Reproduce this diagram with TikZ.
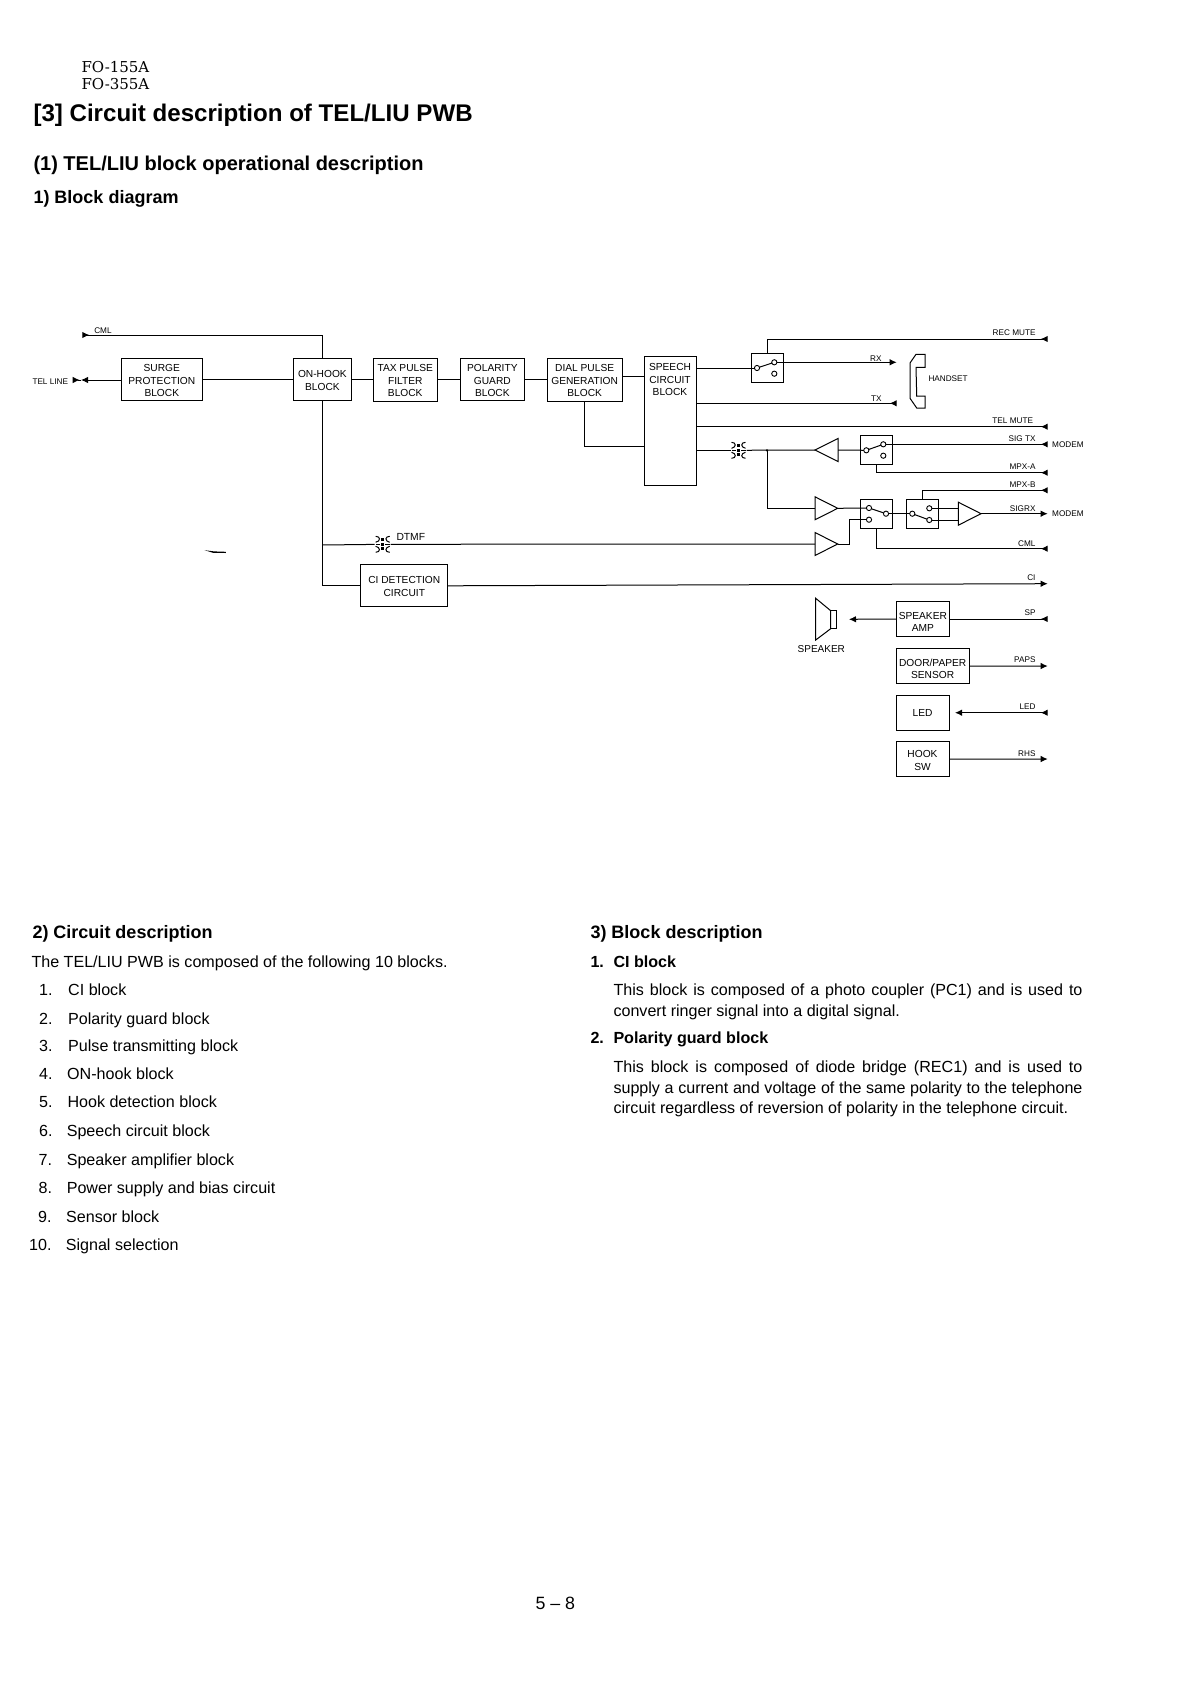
\documentclass[tikz,border=0pt]{standalone}
\usepackage{fontspec}
\setmainfont{Liberation Sans}
\newfontfamily\modelfont{DejaVu Serif}
\usetikzlibrary{
    arrows.meta,
    calc,
    positioning,
}
\tikzstyle{block}=[draw,rectangle,line width=1pt,outer sep=0pt,inner sep=0pt,align=center,font=\fontsize{10.2}{12.3}\selectfont]
\tikzstyle{swbox}=[draw,rectangle,line width=1pt,outer sep=0pt,minimum width=32pt,minimum height=29.5pt]
\tikzstyle{contact}=[draw,circle,fill=white,line width=.9pt,inner sep=0pt,outer sep=0pt,minimum size=5.2pt]
\tikzstyle{choke}=[circle,inner sep=0pt,outer sep=0pt,minimum size=16pt]
\tikzstyle{sig}=[inner sep=0pt,anchor=base east,font=\fontsize{8.2}{10}\selectfont]
\tikzstyle{sigl}=[inner sep=0pt,anchor=base west,font=\fontsize{8.2}{10}\selectfont]
\tikzstyle{body}=[inner sep=0pt,anchor=base west,font=\fontsize{16.1}{20}\selectfont]
\tikzstyle{num}=[inner sep=0pt,anchor=base east,font=\fontsize{16.1}{20}\selectfont]
\tikzstyle{head}=[inner sep=0pt,anchor=base west,font=\fontsize{18}{22}\selectfont\bfseries]
\tikzstyle{inport}=[-{Latex[reversed,length=7pt,width=6.5pt]}]
\tikzset{
    >={Latex[length=7pt,width=6.5pt]},
    every path/.append style={line width=1pt}
}
\newcommand{\Drop}[1]{\rule{0pt}{#1pt}}
\newcommand{\Switch}[5]{%
    \node[swbox] (#1) at (#2) {};
    \node[contact] (#1c) at (#3) {};
    \node[contact] (#1u) at (#4) {};
    \node[contact] (#1l) at (#5) {};
}
\newcommand{\Amp}[4]{%
    \coordinate (#1in) at (#2,#4);
    \coordinate (#1out) at (#3,#4);
    \draw (#2,#4-11.5) -- (#2,#4+11.5) -- (#3,#4) -- cycle;
}
\newcommand{\Choke}[2]{%
    \node[choke] (#1) at (#2) {};
    \begin{scope}[shift={(#1)},line width=1pt]
        \draw (-7,-8) .. controls (-2,-8) and (-2,-3) .. (-7,-2);
        \draw (-7,2) .. controls (-2,3) and (-2,8) .. (-7,8);
        \draw (7,-8) .. controls (2,-8) and (2,-3) .. (7,-2);
        \draw (7,2) .. controls (2,3) and (2,8) .. (7,8);
        \fill (-1.4,-6) rectangle (1.4,-3);
        \fill (-1.4,-1.5) rectangle (1.4,1.5);
        \fill (-1.4,3) rectangle (1.4,6);
        \draw (-7,0) -- (-2.5,0);
        \draw (2.5,0) -- (7,0);
    \end{scope}
}
\newcommand{\JLine}[3]{%
    \node[body] (#1) at (613,#2) {\makebox[469pt][s]{#3}};
}

\begin{document}
\begin{tikzpicture}[x=1pt,y=-1pt]
    \useasboundingbox (0,0) rectangle (1192,1688);

    % Page heading
    \node[inner sep=0pt,anchor=base west,font=\fontsize{15}{17}\modelfont] (model1) at (81,73) {FO-155A};
    \node[inner sep=0pt,anchor=base west,font=\fontsize{15}{17}\modelfont] (model2) at (81,90) {FO-355A};
    \node[head,font=\fontsize{24.1}{28}\selectfont\bfseries] (title) at (33,122) {[3] Circuit description of TEL/LIU PWB};
    \node[head,font=\fontsize{20}{24}\selectfont\bfseries] (sect) at (33,171) {(1) TEL/LIU block operational description};
    \node[head] (sub) at (33,204) {1) Block diagram};

    % Blocks
    \node[block,minimum width=57.8pt,minimum height=42pt] (onhook) at (322.4,379.5) {\Drop{9.3}ON-HOOK\\BLOCK};
    \node[block,minimum width=81.4pt,minimum height=42.4pt,left=91pt of onhook] (surge) {\Drop{9.3}SURGE\\PROTECTION\\BLOCK};
    \node[block,minimum width=64.3pt,minimum height=43pt,right=21.8pt of onhook] (tax) {\Drop{9.3}TAX PULSE\\FILTER\\BLOCK};
    \node[block,minimum width=63.9pt,minimum height=42.7pt,right=23pt of tax] (polarity) {\Drop{9.3}POLARITY\\GUARD\\BLOCK};
    \node[block,minimum width=74.7pt,minimum height=43pt,right=23pt of polarity] (dial) {\Drop{9.3}DIAL PULSE\\GENERATION\\BLOCK};
    \node[block,minimum width=51.7pt,minimum height=128.3pt] (speech) at (670.8,420.9) {};
    \node[inner sep=0pt,align=center,font=\fontsize{10.2}{12.4}\selectfont] (speechtext) at (670,379.5) {SPEECH\\CIRCUIT\\BLOCK};
    \node[block,minimum width=87pt,minimum height=41.7pt] (ci) at (404.3,585.8) {\Drop{8.5}CI DETECTION\\CIRCUIT};
    \node[block,minimum width=53.7pt,minimum height=35.4pt,anchor=north west] (spamp) at (896,601.3) {\Drop{12.5}SPEAKER\\AMP};
    \node[block,minimum width=73.3pt,minimum height=35pt,below=12pt of spamp.south west,anchor=north west] (door) {\Drop{12.5}DOOR/PAPER\\SENSOR};
    \node[block,minimum width=53.3pt,minimum height=35.3pt,below=11.3pt of door.south west,anchor=north west] (led) {LED};
    \node[block,minimum width=53pt,minimum height=35pt,below=11.4pt of led.south west,anchor=north west] (hook) {\Drop{9.8}HOOK\\SW};

    % Switches and amplifiers
    \Switch{swa}{767.3,368.2}{757,368}{774.3,362.3}{774.3,373.7}
    \Switch{swb}{876.3,450}{866.3,450.3}{883.3,444.3}{883.3,455.7}
    \Switch{swc}{876.3,514}{886,513.7}{869,508}{869,519.7}
    \Switch{swd}{922.3,514}{912.3,513.7}{929.3,508.3}{929.3,520}
    \draw (swac) -- (swau);
    \draw (swbc) -- (swbu);
    \draw (swcc) -- (swcu);
    \draw (swdc) -- (swdl);
    \Amp{ampa}{838}{815}{450}
    \Amp{ampb}{815}{837.7}{508.3}
    \Amp{ampc}{815}{837.7}{544}
    \Amp{ampd}{958.3}{981}{513.7}
    \Choke{chokea}{738.5,450.3}
    \Choke{chokeb}{382.7,544.3}

    % Ports
    \coordinate (cmlport) at (82.3,335);
    \coordinate (telmid) at (81,380);
    \coordinate (telport) at (72.7,380);
    \coordinate (recmute) at (1047.7,339);
    \coordinate (rxport) at (896.7,362.3);
    \coordinate (txport) at (896.7,403.3);
    \coordinate (telmute) at (1047.7,426.7);
    \coordinate (sigtx) at (1047.7,444.3);
    \coordinate (mpxa) at (1047.7,472.7);
    \coordinate (mpxb) at (1047.7,490.3);
    \coordinate (sigrx) at (1047.7,513.7);
    \coordinate (cmlb) at (1047.7,548.7);
    \coordinate (ciport) at (1047.7,583.7);
    \coordinate (spport) at (1047.7,619);
    \coordinate (papsport) at (1047.7,666);
    \coordinate (ledport) at (1047.7,712.7);
    \coordinate (rhsport) at (1047.7,759);
    \coordinate (speakertip) at (849,619.3);
    \coordinate (ledtip) at (955,712.7);
    \coordinate (tapdtmf) at (322.4,545);
    \coordinate (dotj) at (767,450.4);
    \coordinate (kink) at (849,519.7);
    \coordinate (spin) at (645,376.7);
    \coordinate (spdial) at (645,446.7);

    % Left part
    \draw[inport] (onhook.north) |- (cmlport);
    \draw[->] (surge.west |- telmid) -- (telmid);
    \draw[inport] (telmid) -- (telport);
    \draw (surge.east) -- (onhook.west);
    \draw (onhook.east) -- (tax.west);
    \draw (tax.east) -- (polarity.west);
    \draw (polarity.east) -- (dial.west);
    \draw (dial.east |- spin) -- (spin);
    \draw (dial.south) |- (spdial);
    \draw (onhook.south) |- (ci.west);
    \draw (tapdtmf) -- (chokeb);
    \draw (chokeb) -- (ampcin);
    \draw[->] (ci.east) -- (ciport);

    % Speech circuit outputs
    \draw (speech.east |- swac) -- (swac);
    \draw[inport] (swa.north) |- (recmute);
    \draw[->] (swau) -- (rxport);
    \draw[inport] (speech.east |- txport) -- (txport);
    \draw[inport] (speech.east |- telmute) -- (telmute);
    \draw (speech.east |- chokea) -- (chokea);
    \draw (chokea) -- (ampaout);
    \fill (dotj) circle (1.3);
    \draw (ampain) -- (swbc);
    \draw[inport] (swbu) -- (sigtx);
    \draw[inport] (swb.south) |- (mpxa);
    \draw (dotj) |- (ampbin);
    \draw (ampbout) -- (swcu);
    \draw (ampcout) -| (kink) -- (swcl);
    \draw (swcc) -- (swdc);
    \draw[inport] (swd.north) |- (mpxb);
    \draw (swdu) -- (swdu -| ampdin);
    \draw (swdl) -- (swdl -| ampdin);
    \draw[->] (ampdout) -- (sigrx);
    \draw[inport] (swc.south) |- (cmlb);

    % Handset and speaker
    \draw (925,354.3) -- (916,354.3) -- (910,363) -- (910,398.3) -- (916.7,408) -- (925,408) -- (925,396) -- (916.7,396) -- (916,367.3) -- (925,367.3) -- cycle;
    \draw (815.7,598.3) -- (830.7,610.7) -- (830.7,628.7) -- (815.7,640) -- cycle;
    \draw (830.7,610.7) rectangle (836.3,628.7);
    \draw[->] (spamp.west) -- (speakertip);
    \draw[inport] (spamp.east) -- (spport);
    \draw[->] (door.east) -- (papsport);
    \draw[{Latex[length=7pt,width=6.5pt]}-{Latex[reversed,length=7pt,width=6.5pt]}] (ledtip) -- (ledport);
    \draw[->] (hook.east) -- (rhsport);

    % Signal labels
    \node[sigl] (cmllabel) at (93.8,333.7) {CML};
    \node[sigl] (tellabel) at (32,384) {TEL LINE};
    \node[sigl,font=\fontsize{10.3}{12}\selectfont] (dtmflabel) at (396,540.5) {DTMF};
    \node[sig] (reclabel) at (1036,335.3) {REC MUTE};
    \node[sig] (rxlabel) at (882,361.5) {RX};
    \node[sig] (txlabel) at (882,401.7) {TX};
    \node[sigl] (handlabel) at (928,381) {HANDSET};
    \node[sig] (tellmute) at (1033.5,423.3) {TEL MUTE};
    \node[sig] (sigtxlabel) at (1036,441.7) {SIG TX};
    \node[sigl] (modema) at (1051.7,447) {MODEM};
    \node[sig] (mpxalabel) at (1036,469.7) {MPX-A};
    \node[sig] (mpxblabel) at (1036,487) {MPX-B};
    \node[sig] (sigrxlabel) at (1036,511) {SIGRX};
    \node[sigl] (modemb) at (1051.7,516.7) {MODEM};
    \node[sig] (cmlblabel) at (1036,546.3) {CML};
    \node[sig] (cilabel) at (1036,580) {CI};
    \node[sig] (splabel) at (1036,615.7) {SP};
    \node[sig] (papslabel) at (1036,662.7) {PAPS};
    \node[sig] (ledlabel) at (1036,709.7) {LED};
    \node[sig] (rhslabel) at (1036,756.3) {RHS};
    \node[inner sep=0pt,anchor=base,font=\fontsize{10}{12}\selectfont] (speakerlabel) at (821.3,652) {SPEAKER};

    % Stray mark of the scan
    \fill (204.7,550.2) -- (214,551.4) -- (225.8,551.8) -- (225.8,553) -- (213,552.8) -- cycle;

    % Circuit description
    \node[head] (circhead) at (32,938) {2) Circuit description};
    \node[body] (intro) at (31,967) {The TEL/LIU PWB is composed of the following 10 blocks.};
    \node[num] (n1) at (53,995.3) {1.};
    \node[body] (i1) at (67.7,995.3) {CI block};
    \node[num] (n2) at (53,1024) {2.};
    \node[body] (i2) at (67.7,1024) {Polarity guard block};
    \node[num] (n3) at (53,1051.2) {3.};
    \node[body] (i3) at (67.7,1051.2) {Pulse transmitting block};
    \node[num] (n4) at (53,1079) {4.};
    \node[body] (i4) at (66.7,1079) {ON-hook block};
    \node[num] (n5) at (53,1107.3) {5.};
    \node[body] (i5) at (67,1107.3) {Hook detection block};
    \node[num] (n6) at (53,1136) {6.};
    \node[body] (i6) at (66.3,1136) {Speech circuit block};
    \node[num] (n7) at (52.5,1165) {7.};
    \node[body] (i7) at (66.3,1165) {Speaker amplifier block};
    \node[num] (n8) at (52.5,1193.7) {8.};
    \node[body] (i8) at (66.3,1193.7) {Power supply and bias circuit};
    \node[num] (n9) at (52,1222.2) {9.};
    \node[body] (i9) at (65.7,1222.2) {Sensor block};
    \node[num] (n10) at (52,1250.3) {10.};
    \node[body] (i10) at (65.3,1250.3) {Signal selection};

    % Block description
    \node[head] (blockhead) at (590,938) {3) Block description};
    \node[body,font=\fontsize{16.1}{20}\selectfont\bfseries] (b1num) at (590,967) {1.};
    \node[body,font=\fontsize{16.1}{20}\selectfont\bfseries] (b1) at (613,967) {CI block};
    \JLine{p1a}{995.5}{This block is composed of a photo coupler (PC1) and is used to}
    \node[body] (p1b) at (613,1016) {convert ringer signal into a digital signal.};
    \node[body,font=\fontsize{16.1}{20}\selectfont\bfseries] (b2num) at (590,1043) {2.};
    \node[body,font=\fontsize{16.1}{20}\selectfont\bfseries] (b2) at (613,1043) {Polarity guard block};
    \JLine{p2a}{1072.5}{This block is composed of diode bridge (REC1) and is used to}
    \JLine{p2b}{1093}{supply a current and voltage of the same polarity to the telephone}
    \node[body] (p2c) at (613,1113.5) {circuit regardless of reversion of polarity in the telephone circuit.};

    \node[inner sep=0pt,anchor=base west,font=\fontsize{17.8}{20}\selectfont] (pagenum) at (535,1609) {5 -- 8};
\end{tikzpicture}
\end{document}
